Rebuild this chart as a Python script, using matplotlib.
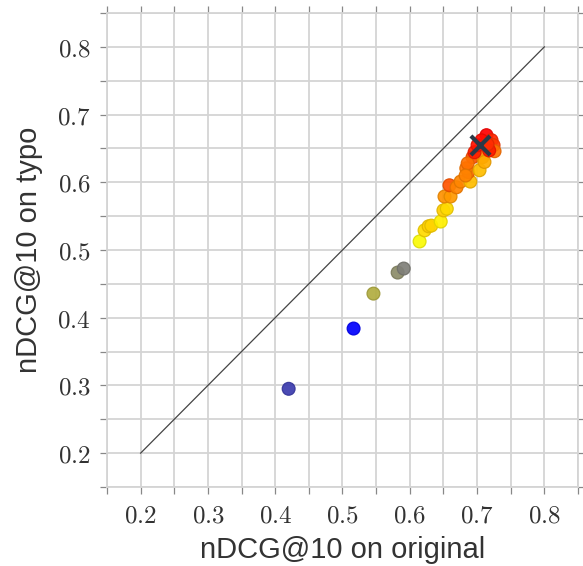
import numpy as np
import matplotlib
matplotlib.use("Agg")
import matplotlib.pyplot as plt
from matplotlib.colors import LinearSegmentedColormap
from matplotlib.ticker import MultipleLocator, FuncFormatter

# nDCG@10 per checkpoint: original queries vs. queries with typos
ndcg_original = [0.420, 0.5165, 0.546, 0.582, 0.591, 0.6146, 0.622, 0.628, 0.632,
                 0.646, 0.650, 0.655, 0.6516, 0.6606, 0.659, 0.6695, 0.6755, 0.690,
                 0.687, 0.684, 0.7037, 0.6933, 0.686, 0.708, 0.711, 0.6963, 0.7007,
                 0.714, 0.7215, 0.7245, 0.726, 0.7067, 0.718, 0.7156, 0.683]
ndcg_typo = [0.295, 0.384, 0.4356, 0.4667, 0.4726, 0.5126, 0.529, 0.535, 0.536,
             0.542, 0.5585, 0.561, 0.579, 0.579, 0.5956, 0.5926, 0.601, 0.601,
             0.615, 0.6207, 0.6178, 0.637, 0.628, 0.637, 0.630, 0.6444, 0.6548,
             0.6696, 0.6622, 0.6548, 0.6459, 0.662, 0.647, 0.656, 0.610]
progress = [0.00, 0.08, 0.16, 0.22, 0.26, 0.32, 0.42, 0.45, 0.44,
            0.36, 0.46, 0.42, 0.62, 0.60, 0.78, 0.66, 0.65, 0.50,
            0.75, 0.68, 0.50, 0.80, 0.70, 0.66, 0.55, 0.92, 0.95,
            1.00, 0.90, 0.85, 0.70, 0.97, 0.93, 0.88, 0.66]

# highlighted checkpoint
best_original = [0.705]
best_typo = [0.6548]

diag = [0.2, 0.8]

cmap = LinearSegmentedColormap.from_list(
    "progress",
    [(0.00, "#3c3cae"), (0.08, "#0000ff"), (0.16, "#b8b438"),
     (0.22, "#8c8c68"), (0.26, "#7f7f78"), (0.32, "#ffff00"),
     (0.60, "#ff9900"), (1.00, "#ff0000")])

face = cmap(np.array(progress))
edge = face.copy()
edge[:, :3] *= 0.88

plt.rcParams["mathtext.fontset"] = "cm"

fig = plt.figure(figsize=(5.83, 5.66), dpi=100)
ax = fig.add_axes([0.1835, 0.1396, 0.8079, 0.8374])

ax.plot(diag, diag, color="#444444", lw=0.9, zorder=2)
ax.scatter(ndcg_original, ndcg_typo, facecolors=face, edgecolors=edge,
           s=85, alpha=0.92, linewidths=0.9, zorder=3)
ax.scatter(best_original, best_typo, marker="x", s=190, color="#2b3947",
           linewidths=3, zorder=4)

ax.set_xlim(0.15, 0.85)
ax.set_ylim(0.15, 0.85)
for a in (ax.xaxis, ax.yaxis):
    a.set_major_locator(MultipleLocator(0.1))
    a.set_minor_locator(MultipleLocator(0.05))
    a.set_major_formatter(FuncFormatter(lambda v, p: r"$%.1f$" % v))

ax.grid(True, which="both", color="#d4d4d4", lw=1.3, zorder=0)
ax.set_axisbelow(True)
for s in ax.spines.values():
    s.set_color("#d4d4d4")
    s.set_linewidth(1.3)

ax.tick_params(which="both", direction="out", length=5, width=0.9,
               color="#888888", top=True, right=True,
               labelsize=18, labelcolor="#333333")
ax.tick_params(axis="x", pad=7)
ax.tick_params(axis="y", pad=7)

ax.set_xlabel("nDCG@10 on original", fontsize=21, family="Liberation Sans",
              color="#333333", labelpad=6)
ax.set_ylabel("nDCG@10 on typo", fontsize=21, family="Liberation Sans",
              color="#333333", labelpad=10)

fig.savefig("out.png", dpi=100)
